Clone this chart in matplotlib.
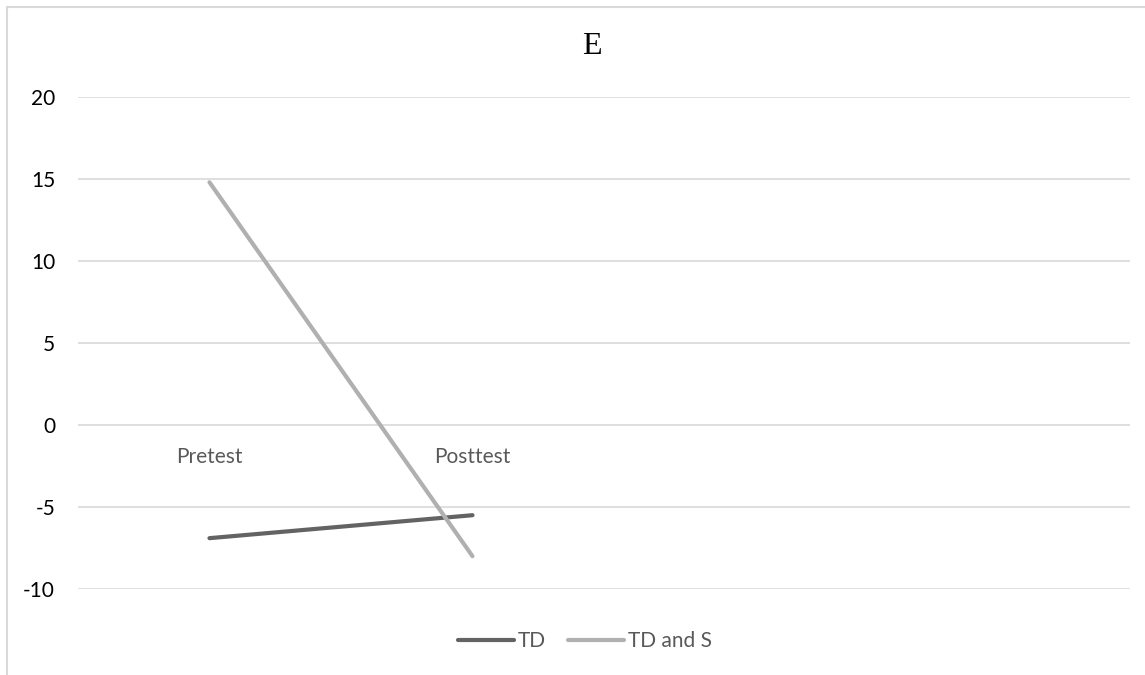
import matplotlib.pyplot as plt
from matplotlib.patches import Rectangle

# category axis has four slots, only the first two carry data
categories = ["Pretest", "Posttest", "", ""]
td = [-6.9, -5.5]
td_and_s = [14.8, -8.0]
y_ticks = [-10, -5, 0, 5, 10, 15, 20]

plt.rcParams['font.family'] = ['Lato', 'DejaVu Sans']

fig = plt.figure(figsize=(11.45, 6.75), dpi=100)
ax = fig.add_axes([0.0681, 0.1274, 0.9188, 0.7289])

# chart area frame
fig.patches.append(Rectangle((7 / 1145, -0.1), 1.2, 1 - 7 / 675 + 0.1,
                             transform=fig.transFigure, fill=False,
                             edgecolor='#D9D9D9', linewidth=1.5))

x = range(len(td))
ax.plot(x, td, color='#636363', linewidth=3, solid_capstyle='round', label='TD', zorder=3)
ax.plot(x, td_and_s, color='#B0B0B0', linewidth=3, solid_capstyle='round', label='TD and S', zorder=3)

ax.set_xlim(-0.5, len(categories) - 0.5)
ax.set_ylim(-10, 20)
ax.set_yticks(y_ticks)
ax.set_yticklabels([str(v) for v in y_ticks], fontsize=15, color='black')
ax.yaxis.grid(True, color='#D9D9D9', linewidth=1.2)
ax.set_axisbelow(True)

# category labels sit under the zero line
ax.spines['bottom'].set_position(('data', 0))
ax.set_xticks(range(len(categories)))
ax.set_xticklabels(categories, fontsize=15, color='#595959')
ax.tick_params(axis='x', length=0, pad=16)
ax.tick_params(axis='y', length=0, pad=16.5)
for s in ax.spines.values():
    s.set_visible(False)

fig.text(592 / 1145, 1 - 47 / 675, 'E', ha='center', va='center',
         fontsize=23, family='Liberation Serif')

fig.legend(loc='center', bbox_to_anchor=(585 / 1145, 1 - 641 / 675), ncol=2,
           frameon=False, fontsize=15, labelcolor='#595959',
           handlelength=2.7, handletextpad=0.2, columnspacing=1.05)

fig.savefig('out.png', dpi=100)
